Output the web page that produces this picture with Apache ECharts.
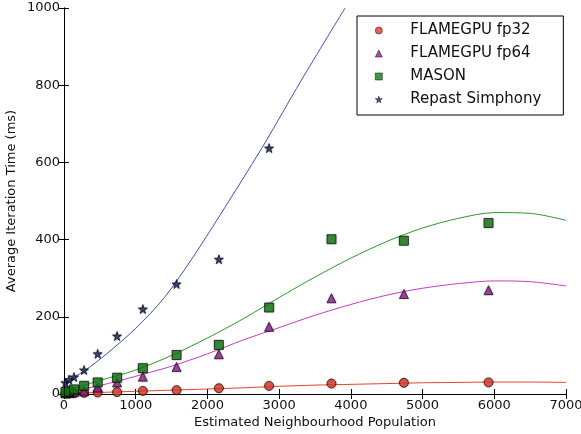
<html>
  <head>
    <meta charset="utf-8" />
    <script src="https://cdn.jsdelivr.net/npm/echarts@6/dist/echarts.min.js"></script>
  </head>
  <body>
    <style>
      html,
      body,
      #main {
        width: 100%;
        height: 100%;
        margin: 0;
        background: #fff;
      }
    </style>
    <div id="main"></div>
    <script>
      // measured points
      const population = [20, 70, 140, 280, 470, 740, 1100, 1570, 2160, 2860, 3730, 4740, 5920];
      const fp32 = [1, 1, 2, 3, 4, 5, 8, 10, 15, 21, 27, 29, 30];
      const fp64 = [2, 3, 5, 7, 17, 30, 45, 70, 103, 174, 248, 259, 269];
      const mason = [5, 7, 12, 21, 30, 42, 67, 101, 127, 224, 401, 397, 443];
      const repast = [29, 37, 44, 62, 104, 150, 220, 285, 349, 637];

      // fitted curves
      const fitX = [0, 500, 1000, 1500, 2000, 2500, 3000, 3500, 4000, 4500, 5000, 5500, 6000, 6500, 7000];
      const fp32Fit = [2, 4, 7, 10, 13, 16, 20, 23, 25, 27, 29, 30, 31, 31, 30];
      const fp64Fit = [4, 22, 46, 72, 104, 140, 172, 204, 232, 256, 274, 286, 293, 291, 280];
      const masonFit = [6, 35, 62, 100, 145, 195, 250, 303, 352, 395, 430, 455, 470, 468, 450];
      const repastFitX = [0, 300, 600, 1000, 1400, 1800, 2300, 2800, 3300, 3920];
      const repastFit = [28, 62, 105, 170, 250, 355, 500, 650, 810, 1000];

      const names = ["FLAMEGPU fp32", "FLAMEGPU fp64", "MASON", "Repast Simphony"];
      const xTicks = [0, 7000, 1000];
      const yTicks = [0, 1000, 200];

      const star = "path://M50,0 L61,35 L98,35 L68,57 L79,91 L50,70 L21,91 L32,57 L2,35 L39,35 Z";
      const symbols = ["circle", "triangle", "rect", star];
      const colors = ["#e33b2a", "#9a1e96", "#137a13", "#1d2870"];

      function pairs(xs, ys) {
        return ys.map(function (y, i) {
          return [xs[i], y];
        });
      }

      var font = "DejaVu Sans";
      var chart = echarts.init(document.getElementById("main"));

      function scatter(i, ys) {
        return {
          name: names[i],
          type: "scatter",
          data: pairs(population, ys),
          symbol: symbols[i],
          symbolSize: 9,
          z: 5,
          itemStyle: {
            color: colors[i],
            borderColor: "#000",
            borderWidth: 0.8,
            shadowColor: "rgba(0,0,0,0.35)",
            shadowBlur: 2,
          },
        };
      }

      function fit(xs, ys, color) {
        return {
          type: "line",
          data: pairs(xs, ys),
          showSymbol: false,
          smooth: 0.3,
          clip: true,
          z: 2,
          lineStyle: { color: color, width: 1 },
        };
      }

      function plain(v) {
        return String(v);
      }

      var xBase = {
        type: "value",
        min: xTicks[0],
        max: xTicks[1],
        interval: xTicks[2],
        splitLine: { show: false },
        axisLine: { show: true, lineStyle: { color: "#000", width: 1 } },
        axisTick: { show: true, inside: true, length: 5, lineStyle: { color: "#000" } },
      };
      var yBase = {
        type: "value",
        min: yTicks[0],
        max: yTicks[1],
        interval: yTicks[2],
        splitLine: { show: false },
        axisLine: { show: true, lineStyle: { color: "#000", width: 1 } },
        axisTick: { show: true, inside: true, length: 5, lineStyle: { color: "#000" } },
      };

      var option = {
        animation: false,
        textStyle: { fontFamily: font },
        grid: { left: 64, right: 15, top: 8, bottom: 40, containLabel: false, outerBoundsMode: "none" },
        legend: {
          data: names.map(function (n, i) {
            return {
              name: n,
              icon: symbols[i],
              itemStyle: { color: colors[i], borderColor: "#000", borderWidth: 0.6, shadowBlur: 0 },
            };
          }),
          orient: "vertical",
          left: 357,
          top: 16,
          selectedMode: false,
          backgroundColor: "#fff",
          borderColor: "#000",
          borderWidth: 1,
          borderRadius: 0,
          padding: [7, 22, 8, 18],
          itemWidth: 7,
          itemHeight: 7,
          itemGap: 8,
          textStyle: {
            fontFamily: font,
            fontSize: 15,
            lineHeight: 15,
            color: "#111",
            padding: [0, 0, 0, 23],
          },
        },
        xAxis: [
          Object.assign({}, xBase, {
            position: "bottom",
            name: "Estimated Neighbourhood Population",
            nameLocation: "middle",
            nameGap: 22,
            nameMoveOverlap: false,
            nameTextStyle: { fontFamily: font, fontSize: 13, color: "#111" },
            axisLabel: { fontFamily: font, fontSize: 13, color: "#111", margin: 5, formatter: plain },
          }),
          Object.assign({}, xBase, { position: "top", axisLabel: { show: false } }),
        ],
        yAxis: [
          Object.assign({}, yBase, {
            position: "left",
            name: "Average Iteration Time (ms)",
            nameLocation: "middle",
            nameGap: 46,
            nameMoveOverlap: false,
            nameTextStyle: { fontFamily: font, fontSize: 13, color: "#111" },
            axisLabel: { fontFamily: font, fontSize: 13, color: "#111", margin: 4, formatter: plain },
          }),
          Object.assign({}, yBase, { position: "right", axisLabel: { show: false } }),
        ],
        series: [
          fit(fitX, fp32Fit, "#e8402a"),
          fit(fitX, fp64Fit, "#c43bc0"),
          fit(fitX, masonFit, "#2b992b"),
          fit(repastFitX, repastFit, "#3f52b5"),
          scatter(0, fp32),
          scatter(1, fp64),
          scatter(2, mason),
          scatter(3, repast),
        ],
      };

      chart.setOption(option);
      window.onresize = chart.resize;
    </script>
  </body>
</html>
